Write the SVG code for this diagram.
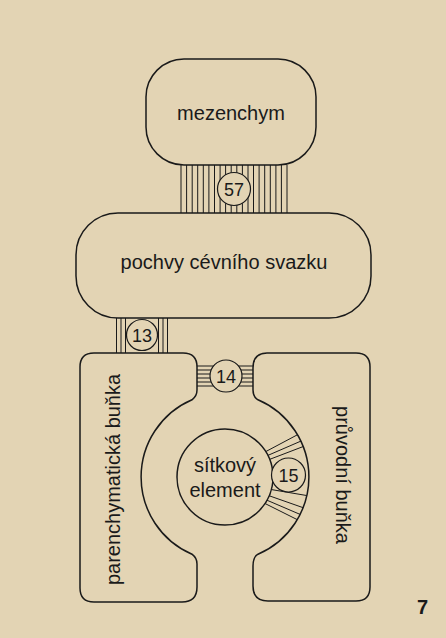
<svg xmlns="http://www.w3.org/2000/svg" width="446" height="638" viewBox="0 0 446 638">
<style>
.bg{fill:#e3d4b4}
.node{fill:#e3d4b4;stroke:#1a1a1a;stroke-width:1.5}
.pd{stroke:#1a1a1a;stroke-width:1;fill:none}
.num{fill:#e3d4b4;stroke:#1a1a1a;stroke-width:1.2}
text{font-family:"Liberation Sans",Arial,sans-serif;fill:#1a1a1a}
.lbl{font-size:20px;text-anchor:middle}
.n{font-size:18px;text-anchor:middle}
</style>
<defs>
<clipPath id="ring"><circle cx="225" cy="477" r="84"/></clipPath>
</defs>
<rect class="bg" x="0" y="0" width="446" height="638"/>
<g id="connectors">
<g id="c57" class="pd">
<path d="M181,165V213M186.6,165V213M192.2,165V213M197.7,165V213M203.3,165V213M208.9,165V213M214.5,165V213M220.1,165V213M225.6,165V213M231.2,165V213M236.8,165V213M242.4,165V213M248,165V213M253.5,165V213M259.1,165V213M264.7,165V213M270.3,165V213M275.9,165V213M281.4,165V213M287,165V213"/>
</g>
<g id="c13" class="pd">
<path d="M116.5,318V353M121,318V353M125.5,318V353M158.5,318V353M163,318V353M167.5,318V353"/>
</g>
<g id="c14" class="pd">
<path d="M197,366H253M197,370H253M197,374H253M197,378H253M197,382H253M197,386H253"/>
</g>
</g>
<g id="mezenchym">
<rect class="node" x="146" y="59" width="170" height="106" rx="38" ry="38"/>
<text class="lbl" x="231" y="120">mezenchym</text>
</g>
<g id="pochvy">
<rect class="node" x="76" y="213" width="295" height="105" rx="42" ry="42"/>
<text class="lbl" x="224" y="269">pochvy cévního svazku</text>
</g>
<g id="parenchym">
<path class="node" d="M94,353L183,353Q197,353 197,367L197,390Q197,396 192,399.8A84,84 0 0 0 192,554.2Q197,558 197,564L197,587Q197,602 182,602L94,602Q80,602 80,588L80,367Q80,353 94,353Z"/>
<text class="lbl" transform="translate(120,479.5) rotate(-90)">parenchymatická buňka</text>
</g>
<g id="pruvodni">
<path class="node" d="M267,353L356,353Q370,353 370,367L370,587Q370,601 356,601L268,601Q253,601 253,586L253,566Q253,557 258,554.2A84,84 0 0 0 258,399.8Q253,397 253,390L253,368Q253,353 267,353Z"/>
<text class="lbl" transform="translate(336,475) rotate(90)">průvodní buňka</text>
</g>
<g id="c15" class="pd" clip-path="url(#ring)">
<path d="M255.4,457.1L309.8,428.2M256.45,460.35L313.4,435.7M257.8,463.9L315.6,441.8M260.35,487.7L320.7,497.9M255.9,491.1L318.8,513.2M256,495.5L315.5,521M259,500.5L310,526"/>
</g>
<g id="sitkovy">
<circle class="node" cx="225" cy="477" r="48"/>
<text class="lbl" x="225" y="472">sítkový</text>
<text class="lbl" x="225" y="497">element</text>
</g>
<g id="n57"><circle class="num" cx="234" cy="189" r="16.5"/><text class="n" x="234" y="195.5">57</text></g>
<g id="n13"><circle class="num" cx="142" cy="335" r="15.5"/><text class="n" x="142" y="341.5">13</text></g>
<g id="n14"><circle class="num" cx="226" cy="376" r="16"/><text class="n" x="226" y="382.5">14</text></g>
<g id="n15"><circle class="num" cx="288.5" cy="475" r="17"/><text class="n" x="288.5" y="481.5">15</text></g>
<text x="422.5" y="614" style="font-size:20px;font-weight:bold;text-anchor:middle">7</text>
</svg>
